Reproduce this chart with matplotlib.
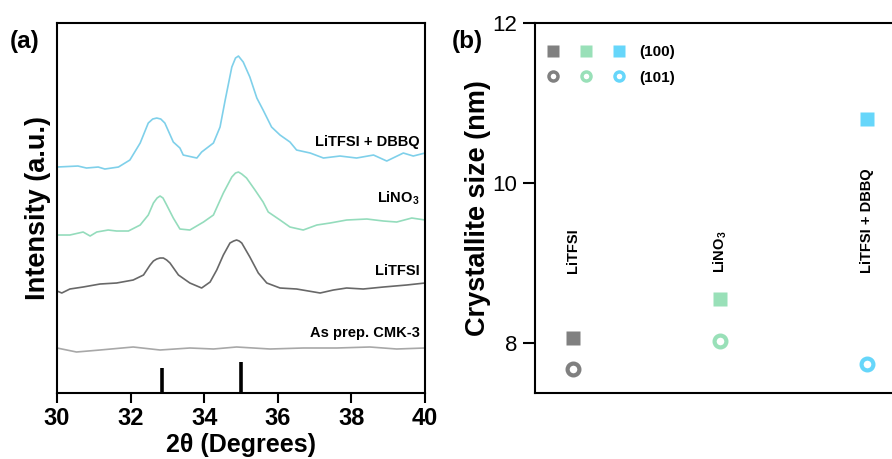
import numpy as np
import matplotlib.pyplot as plt
from matplotlib.lines import Line2D
from matplotlib.legend_handler import HandlerTuple

plt.rcParams["font.family"] = ["Liberation Sans", "DejaVu Sans"]
plt.rcParams["mathtext.default"] = "regular"

# --- panel (a): XRD patterns, offset intensities ---
tt_dbbq = [30.0, 30.57, 30.8, 31.12, 31.3, 31.67, 31.98, 32.26, 32.48, 32.6, 32.71, 32.82,
           32.93, 33.16, 33.34, 33.43, 33.8, 33.93, 34.25, 34.43, 34.57, 34.75, 34.85,
           34.93, 35.06, 35.24, 35.43, 35.6, 35.83, 36.06, 36.33, 36.51, 36.88, 37.24,
           37.69, 38.14, 38.6, 38.96, 39.41, 39.68, 40.0]
int_dbbq = [226, 227, 225, 226, 224, 226, 233, 250, 270, 274, 275, 274,
            270, 251, 245, 238, 235, 241, 250, 266, 293, 326, 335,
            337, 331, 316, 295, 283, 266, 258, 251, 243, 240, 235,
            237, 235, 238, 232, 240, 237, 240]

tt_lino3 = [30.0, 30.35, 30.71, 30.9, 31.08, 31.39, 31.62, 31.94, 32.26, 32.48, 32.62,
            32.72, 32.8, 32.88, 32.98, 33.16, 33.34, 33.61, 33.98, 34.25, 34.52, 34.75,
            34.85, 34.93, 35.02, 35.15, 35.38, 35.6, 35.74, 36.06, 36.33, 36.69, 37.06,
            37.42, 37.87, 38.42, 38.87, 39.23, 39.64, 40.0]
int_lino3 = [158, 158, 161, 157, 161, 163, 162, 162, 168, 178, 190,
             195, 197, 195, 188, 175, 164, 163, 171, 178, 200, 216,
             220, 221, 219, 215, 203, 191, 181, 173, 166, 163, 168,
             170, 173, 174, 172, 171, 175, 173]

tt_litfsi = [30.0, 30.13, 30.35, 30.71, 31.17, 31.62, 32.07, 32.35, 32.53, 32.62, 32.71,
             32.8, 32.89, 32.98, 33.07, 33.3, 33.61, 33.93, 34.16, 34.34, 34.52, 34.7,
             34.8, 34.88, 34.95, 35.02, 35.24, 35.47, 35.7, 36.06, 36.51, 37.15, 37.51,
             37.87, 38.32, 38.87, 39.5, 40.0]
int_litfsi = [102, 100, 104, 106, 109, 110, 113, 118, 128, 132, 134,
              135, 135, 133, 130, 118, 110, 105, 111, 123, 138, 150,
              152, 153, 152, 150, 136, 120, 110, 105, 104, 100, 103,
              105, 104, 106, 108, 110]

tt_cmk = [30.0, 30.53, 31.17, 32.07, 32.8, 33.61, 34.25, 34.88, 35.79, 36.69, 37.6,
          38.5, 39.23, 40.0]
int_cmk = [45, 41, 43, 46, 43, 45, 44, 46, 44, 45, 45, 46, 44, 45]

ref_pos = [32.85, 35.0]
ref_height = [25, 31]

# --- panel (b): crystallite sizes ---
samples = ["LiTFSI", "LiNO$_3$", "LiTFSI + DBBQ"]
size_100 = [8.06, 8.55, 10.8]
size_101 = [7.68, 8.03, 7.74]
sample_colors = ["#808080", "#99e0b8", "#66d6fa"]

fig = plt.figure(figsize=(8.92, 4.59), dpi=100)

# ================= (a) =================
ax1 = fig.add_axes([0.0639, 0.1438, 0.4126, 0.806])
ax1.plot(tt_dbbq, int_dbbq, color="#7fd0ea", lw=1.2)
ax1.plot(tt_lino3, int_lino3, color="#94dcbc", lw=1.2)
ax1.plot(tt_litfsi, int_litfsi, color="#686868", lw=1.2)
ax1.plot(tt_cmk, int_cmk, color="#a8a8a8", lw=1.2)
ax1.vlines(ref_pos, 0, ref_height, color="black", lw=2.6)

curve_labels = ["LiTFSI + DBBQ", "LiNO$_3$", "LiTFSI", "As prep. CMK-3"]
label_y = [251, 195, 122, 60]
for txt, yy in zip(curve_labels, label_y):
    ax1.text(39.86, yy, txt, ha="right", va="center", fontsize=10.5, fontweight="bold")

ax1.set_xlim(30, 40)
ax1.set_ylim(0, 370)
ax1.set_xticks([30, 32, 34, 36, 38, 40])
ax1.set_yticks([])
ax1.tick_params(axis="x", direction="out", length=7, width=1.5, labelsize=17, pad=3)
for lab in ax1.get_xticklabels():
    lab.set_fontweight("bold")
for sp in ax1.spines.values():
    sp.set_linewidth(1.5)
ax1.set_xlabel("2θ (Degrees)", fontsize=18, fontweight="bold", labelpad=2)
ax1.set_ylabel("Intensity (a.u.)", fontsize=19.5, fontweight="bold", labelpad=4)
fig.text(0.011, 0.895, "(a)", fontsize=17.5, fontweight="bold")

# ================= (b) =================
ax2 = fig.add_axes([0.5998, 0.1438, 0.4002, 0.806])
xpos = np.arange(len(samples))
for i in range(len(samples)):
    ax2.plot(xpos[i], size_100[i], marker="s", ms=10.5, color=sample_colors[i],
             mec="none", ls="none")
    ax2.plot(xpos[i], size_101[i], marker="o", ms=8.5, mfc="white",
             mec=sample_colors[i], mew=3, ls="none")
    ax2.text(xpos[i], 8.875, samples[i], rotation=90, ha="center", va="bottom",
             fontsize=10.5, fontweight="bold")

sq = tuple(Line2D([], [], marker="s", ms=8, color=c, mec="none", ls="none")
           for c in sample_colors)
ci = tuple(Line2D([], [], marker="o", ms=6.5, mfc="white", mec=c, mew=2.5, ls="none")
           for c in sample_colors)
ax2.legend([sq, ci], ["(100)", "(101)"], handler_map={tuple: HandlerTuple(ndivide=None, pad=0)},
           loc="upper left", bbox_to_anchor=(0.004, 0.94), frameon=False,
           handlelength=6.5, handletextpad=0.2, borderaxespad=0, borderpad=0,
           labelspacing=0.75, prop={"size": 11, "weight": "bold"})

ax2.set_xlim(-0.259, 2.17)
ax2.set_ylim(7.375, 12)
ax2.set_yticks([8, 10, 12])
ax2.set_xticks([])
ax2.tick_params(axis="y", direction="out", length=9, width=1.5, labelsize=16, pad=4)
ax2.spines["right"].set_visible(False)
for sp in ["left", "top", "bottom"]:
    ax2.spines[sp].set_linewidth(1.5)
ax2.set_ylabel("Crystallite size (nm)", fontsize=19.5, fontweight="bold", labelpad=1)
fig.text(0.507, 0.895, "(b)", fontsize=17.5, fontweight="bold")

fig.savefig("out.png", dpi=100)
